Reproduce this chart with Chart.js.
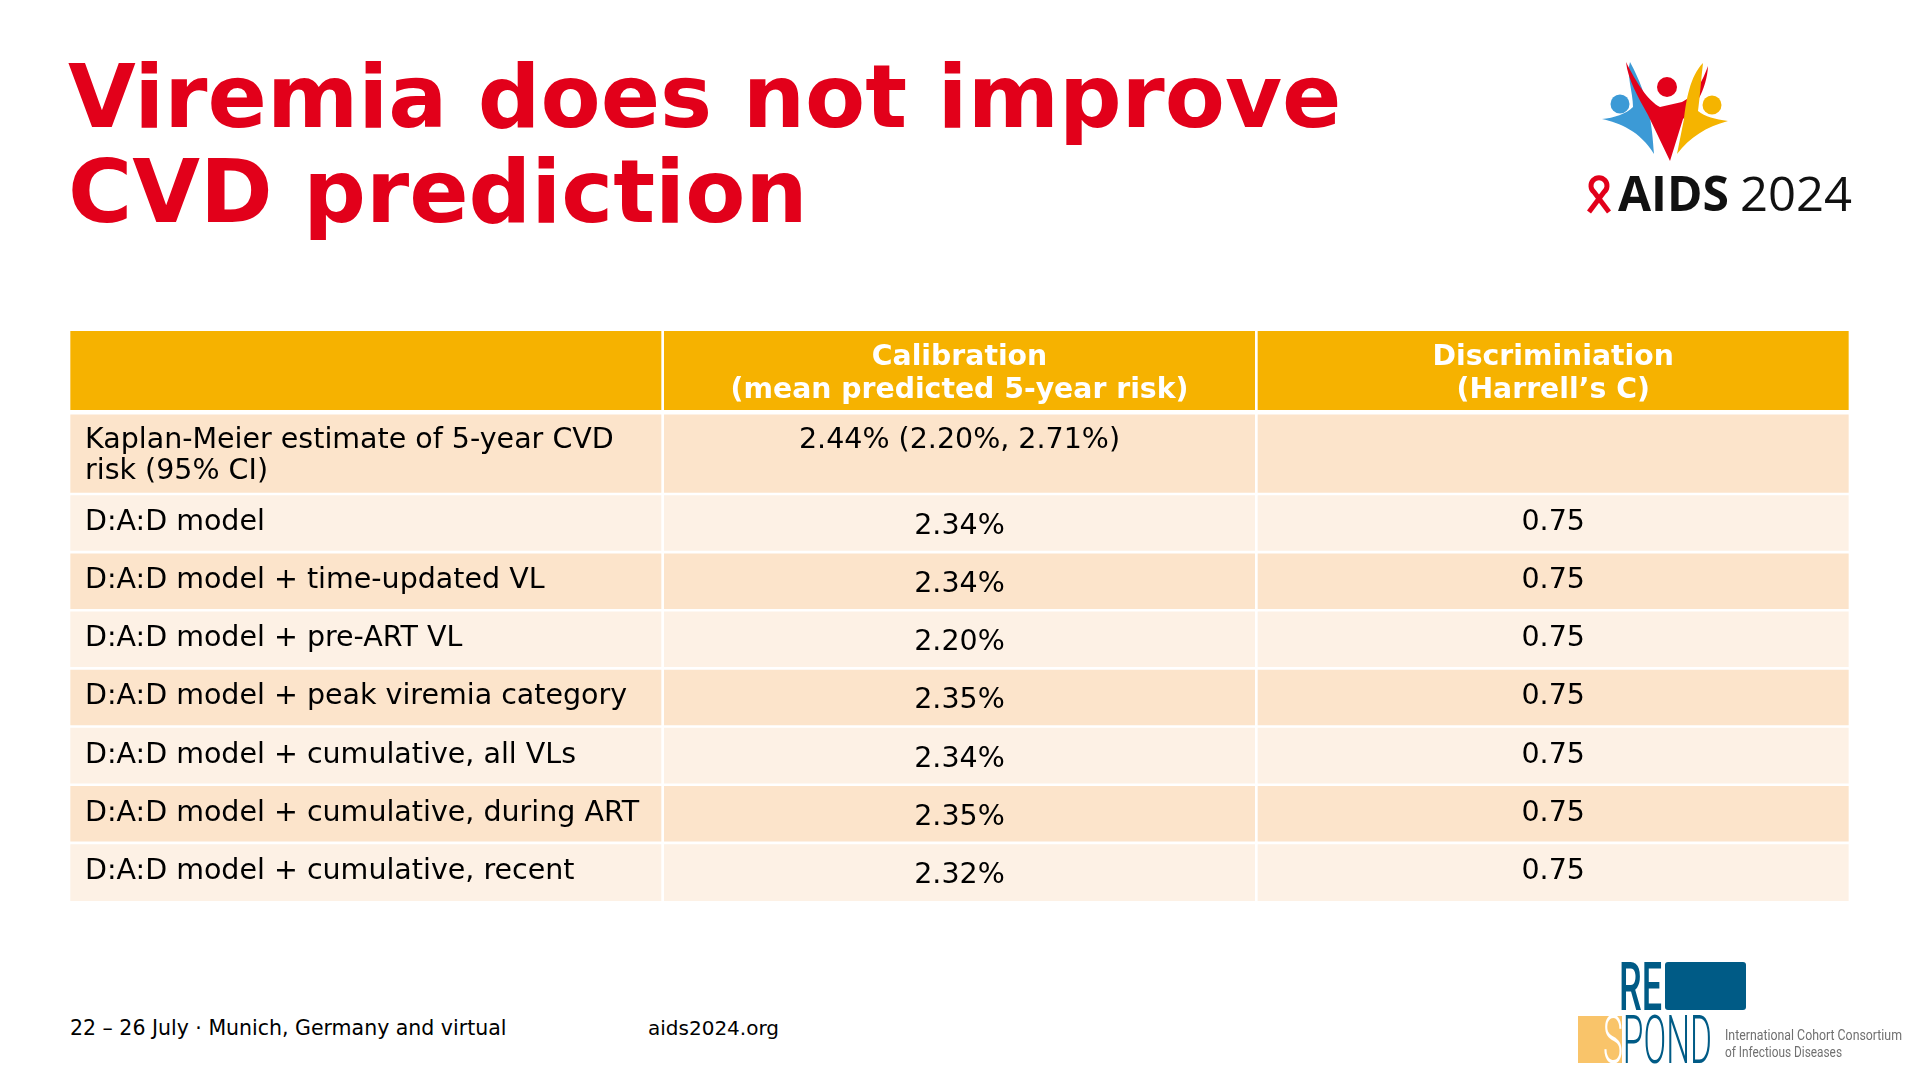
<!DOCTYPE html>
<html>
<head>
<meta charset="utf-8">
<script src="https://cdn.jsdelivr.net/npm/chart.js"></script>
<style>
  html, body { margin: 0; padding: 0; background: #ffffff; }
  body { width: 1920px; height: 1080px; position: relative; overflow: hidden; font-family: "DejaVu Sans", Verdana, sans-serif; }
  .title { position: absolute; left: 68px; font-family: "DejaVu Sans", Verdana, sans-serif; font-weight: bold; font-size: 87.6px; line-height: 95px; color: #E2001A; white-space: nowrap; }
  .footer { position: absolute; top: 1016px; font-family: "DejaVu Sans", Verdana, sans-serif; font-size: 20px; line-height: 24px; color: #000; white-space: nowrap; }
  #tableBox { position: absolute; left: 69px; top: 331px; width: 1781px; height: 570px; }
  #logos { position: absolute; left: 0; top: 0; }
</style>
</head>
<body>
<div class="title" style="top:50px">Viremia does not improve</div>
<div class="title" style="top:145px">CVD prediction</div>

<div id="tableBox"><canvas id="chart"></canvas></div>

<div class="footer" style="left:70px; font-size:20.5px">22 – 26 July · Munich, Germany and virtual</div>
<div class="footer" style="left:648px">aids2024.org</div>

<svg id="logos" width="1920" height="1080" xmlns="http://www.w3.org/2000/svg">
  <!-- AIDS 2024 logo -->
  <path d="M1602,119 C1620,123 1640,131 1654,154 C1652,126 1650,99 1630,62 C1626,74 1633,92 1633,107 C1626,114 1614,118 1602,119 Z" fill="#3C9AD6"/>
  <circle cx="1620" cy="104" r="9.5" fill="#3C9AD6"/>
  <path d="M1626,62 C1636,82 1648,101 1660,107 L1682,102 C1695,96 1703,80 1708,66 C1707,90 1693,111 1683,119 L1670,161 L1648,115 C1638,97 1628,80 1626,62 Z" fill="#E2001A"/>
  <circle cx="1667" cy="87" r="10" fill="#E2001A"/>
  <path d="M1703,63 C1690,76 1686,101 1684,119 L1677,154 C1690,137 1706,127 1728,121 C1715,119 1705,117 1698,111 C1700,96 1701,80 1703,63 Z" fill="#F5B400"/>
  <circle cx="1712" cy="105" r="9.5" fill="#F5B400"/>
  <path d="M1589,212 L1604,192 A8,8 0 1 0 1594,192 L1609,212" fill="none" stroke="#E2001A" stroke-width="5" stroke-linejoin="round"/>
  <text x="1618" y="211" font-family="Open Sans, sans-serif" font-weight="bold" font-size="48" fill="#111">AIDS</text>
  <text x="1740" y="211" font-family="Open Sans, sans-serif" font-size="48" fill="#111" textLength="112" lengthAdjust="spacingAndGlyphs">2024</text>

  <!-- RESPOND logo -->
  <rect x="1665" y="962" width="81" height="48" rx="3" fill="#005B86"/>
  <rect x="1578" y="1016" width="44" height="47" fill="#F9C46A"/>
  <text x="1619" y="1010" font-family="Roboto, sans-serif" font-weight="500" font-size="66" fill="#005B86" textLength="43" lengthAdjust="spacingAndGlyphs">RE</text>
  <text x="1603" y="1063" font-family="Roboto, sans-serif" font-weight="300" font-size="66" fill="#005B86" textLength="109" lengthAdjust="spacingAndGlyphs"><tspan fill="#ffffff">S</tspan>POND</text>
  <text x="1725" y="1040" font-family="Roboto, sans-serif" font-size="15" fill="#707070" textLength="177" lengthAdjust="spacingAndGlyphs">International Cohort Consortium</text>
  <text x="1725" y="1057" font-family="Roboto, sans-serif" font-size="15" fill="#707070" textLength="117" lengthAdjust="spacingAndGlyphs">of Infectious Diseases</text>
</svg>

<script>
// ---------- DATA ----------
const columnKeys = ["model", "calibration", "discrimination"];
const columnHeaders = [
  [],
  ["Calibration", "(mean predicted 5-year risk)"],
  ["Discriminiation", "(Harrell’s C)"]
];
const rowLabels = [
  "Kaplan-Meier estimate of 5-year CVD risk (95% CI)",
  "D:A:D model",
  "D:A:D model + time-updated VL",
  "D:A:D model + pre-ART VL",
  "D:A:D model + peak viremia category",
  "D:A:D model + cumulative, all VLs",
  "D:A:D model + cumulative, during ART",
  "D:A:D model + cumulative, recent"
];
const calibrationValues = ["2.44% (2.20%, 2.71%)", "2.34%", "2.34%", "2.20%", "2.35%", "2.34%", "2.35%", "2.32%"];
const harrellC = [null, 0.75, 0.75, 0.75, 0.75, 0.75, 0.75, 0.75];

// ---------- LAYOUT / STYLE ----------
const rowHeights = [79, 84, 58.14, 58.14, 58.14, 58.14, 58.14, 58.14, 58.16]; // header + 8 rows (px units on y scale)
const rowGap = 2.6;
const headerGapBelow = 4.5;
const headerColor = "#F6B200";
const bandDark = "#FCE4CB";
const bandLight = "#FDF1E5";
const bodyFont = '28.5px "DejaVu Sans", Verdana, sans-serif';
const headFont = 'bold 28.3px "DejaVu Sans", Verdana, sans-serif';

const totalH = rowHeights.reduce((a, b) => a + b, 0);
const rowTops = [];
rowHeights.reduce((acc, h) => { rowTops.push(acc); return acc + h; }, 0);

const datasets = rowHeights.map((h, r) => {
  const top = rowTops[r] + (r === 0 ? 0 : (r === 1 ? headerGapBelow : rowGap / 2));
  const bottom = rowTops[r] + h - (r === 0 ? 0 : (r === rowHeights.length - 1 ? 0 : rowGap / 2));
  const color = r === 0 ? headerColor : (r % 2 === 1 ? bandDark : bandLight);
  return {
    label: r === 0 ? "header" : rowLabels[r - 1],
    data: columnKeys.map(() => [top, bottom]),
    backgroundColor: color,
    borderWidth: 0,
    borderSkipped: false,
    grouped: false,
    barPercentage: 1,
    categoryPercentage: 0.9955
  };
});

function wrapText(ctx, text, maxW) {
  const words = text.split(" ");
  const lines = [];
  let cur = "";
  for (const w of words) {
    const test = cur ? cur + " " + w : w;
    if (ctx.measureText(test).width > maxW && cur) { lines.push(cur); cur = w; }
    else cur = test;
  }
  if (cur) lines.push(cur);
  return lines;
}

const tableText = {
  id: "tableText",
  afterDatasetsDraw(chart) {
    const { ctx } = chart;
    const xs = chart.scales.x, ys = chart.scales.y;
    const colW = xs.width / columnKeys.length;
    const padX = 16;
    ctx.save();
    ctx.textBaseline = "alphabetic";
    // header
    ctx.font = headFont;
    ctx.fillStyle = "#ffffff";
    ctx.textAlign = "center";
    columnHeaders.forEach((lines, c) => {
      lines.forEach((ln, i) => {
        ctx.fillText(ln, xs.getPixelForValue(c), ys.getPixelForValue(rowTops[0] + 34 + i * 33));
      });
    });
    // body
    ctx.font = bodyFont;
    ctx.fillStyle = "#000000";
    rowLabels.forEach((label, i) => {
      const r = i + 1;
      const base = rowTops[r] + (r === 1 ? 38 : 36);
      ctx.textAlign = "left";
      const lx = xs.getPixelForValue(0) - colW / 2 + padX;
      const lines = wrapText(ctx, label, colW - padX - 8);
      lines.forEach((ln, k) => ctx.fillText(ln, lx, ys.getPixelForValue(base + k * 31)));
      ctx.textAlign = "center";
      const calOff = r === 1 ? 0 : 4;
      ctx.fillText(calibrationValues[i], xs.getPixelForValue(1), ys.getPixelForValue(base + calOff));
      if (harrellC[i] !== null) {
        ctx.fillText(harrellC[i].toFixed(2), xs.getPixelForValue(2), ys.getPixelForValue(base));
      }
    });
    ctx.restore();
  }
};

new Chart(document.getElementById("chart"), {
  type: "bar",
  data: { labels: columnKeys, datasets },
  options: {
    responsive: true,
    maintainAspectRatio: false,
    devicePixelRatio: 1,
    animation: false,
    layout: { padding: 0 },
    plugins: { legend: { display: false }, tooltip: { enabled: false } },
    scales: {
      x: { type: "category", display: false, offset: true, grid: { display: false } },
      y: { type: "linear", display: false, reverse: true, min: 0, max: totalH }
    }
  },
  plugins: [tableText]
});
</script>
</body>
</html>
